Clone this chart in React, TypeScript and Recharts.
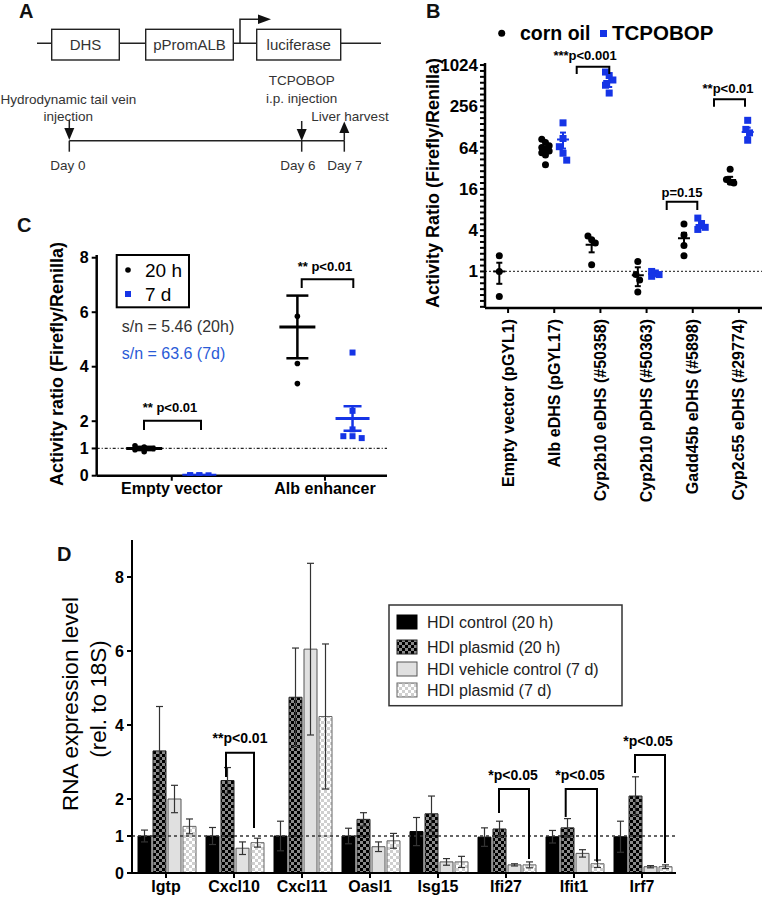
import React from 'react';
import {
    Bar,
    BarChart,
    ErrorBar,
    ReferenceLine,
    Scatter,
    ScatterChart,
    XAxis,
    YAxis,
} from 'recharts';

const FONT = '"Liberation Sans", Arial, Helvetica, sans-serif';
const BLUE = '#1534e6';

// ---- panel B: enhancer activity (log2 axis)
const bCategories = [
    'Empty vector (pGYL1)',
    'Alb eDHS (pGYL17)',
    'Cyp2b10 eDHS (#50358)',
    'Cyp2b10 pDHS (#50363)',
    'Gadd45b eDHS (#5898)',
    'Cyp2c55 eDHS (#29774)',
];
const bCornOil = [
    [1.7, 1.0, 0.43],
    [85, 76, 68, 64, 60, 57, 54, 50, 36],
    [3.3, 2.9, 2.6, 1.25],
    [1.4, 0.9, 0.75, 0.5],
    [4.9, 3.4, 2.4, 1.7],
    [31, 22, 20, 19.5],
];
const bTcpobop = [
    [],
    [147, 87, 66, 53, 42],
    [810, 720, 620, 520, 400],
    [1.0, 0.95, 0.9, 0.85],
    [6.0, 5.0, 4.4, 4.1],
    [160, 118, 105, 82],
];
const bCornMean = [1.0, 60, 2.45, 0.88, 3.05, 21.6];
const bCornSem = [0.34, 5, 0.55, 0.27, 0.6, 2.4];
const bTcpMean = [NaN, 84, 600, 0.9, 4.75, 108];
const bTcpSem = [NaN, 22, 110, 0.04, 0.45, 17];
const bMajorTicks = [1, 4, 16, 64, 256, 1024];

// ---- panel C: 20 h vs 7 d
const cCategories = ['Empty vector', 'Alb enhancer'];
const c20h = [
    [1.1, 1.05, 1.0, 0.95, 0.88],
    [5.85, 4.12, 3.38],
];
const c7d = [
    [0.02, 0.015, 0.015, 0.01, 0.02],
    [4.52, 2.38, 1.7, 1.45, 1.38, 1.45],
];
const c20hMean = [1.0, 5.46];
const c20hSem = [0.06, 1.15];
const c7dMean = [0.016, 2.1];
const c7dSem = [0.004, 0.45];
const cTicks = [0, 1, 2, 4, 6, 8];

// ---- panel D: RNA expression
const dGenes = ['Igtp', 'Cxcl10', 'Cxcl11', 'Oasl1', 'Isg15', 'Ifi27', 'Ifit1', 'Irf7'];
const dControl20h = [1, 1, 1, 1, 1.12, 0.97, 0.98, 0.98];
const dControl20hErr = [0.16, 0.23, 0.4, 0.21, 0.38, 0.25, 0.17, 0.42];
const dPlasmid20h = [3.3, 2.5, 4.75, 1.45, 1.6, 1.19, 1.22, 2.08];
const dPlasmid20hErr = [1.2, 0.35, 1.33, 0.18, 0.48, 0.21, 0.25, 0.52];
const dVehicle7d = [2.0, 0.67, 6.05, 0.71, 0.3, 0.22, 0.53, 0.17];
const dVehicle7dErr = [0.37, 0.17, 2.32, 0.13, 0.09, 0.03, 0.1, 0.03];
const dPlasmid7d = [1.26, 0.82, 4.23, 0.87, 0.3, 0.22, 0.25, 0.17];
const dPlasmid7dErr = [0.2, 0.12, 1.96, 0.2, 0.15, 0.08, 0.1, 0.05];
const dTicks = [0, 1, 2, 4, 6, 8];
const dSeries = [
    'HDI control (20 h)',
    'HDI plasmid (20 h)',
    'HDI vehicle control (7 d)',
    'HDI plasmid (7 d)',
];

// spread points that sit close together into up to 3 columns
const spread = (vals: number[], step: number, near: number) => {
    const order = vals.map((v, i) => ({ v, i })).sort((a, b) => b.v - a.v);
    const clusters: { v: number; i: number }[][] = [];
    order.forEach((p) => {
        const last = clusters[clusters.length - 1];
        if (last && Math.abs(last[last.length - 1].v - p.v) < near) last.push(p);
        else clusters.push([p]);
    });
    const xs: number[] = new Array(vals.length).fill(0);
    clusters.forEach((c) => {
        c.forEach((p, k) => {
            xs[p.i] = c.length === 2 ? (k - 0.5) * step : c.length === 1 ? 0 : ((k % 3) - 1) * step;
        });
    });
    return xs;
};

const toPoints = (
    groups: number[][],
    offset: number,
    step: number,
    near: number,
    t: (v: number) => number = (v) => v
) =>
    groups.flatMap((vals, ci) => {
        const xs = spread(vals.map(t), step, near);
        return vals.map((v, i) => ({ x: ci + offset + xs[i], y: v }));
    });

const toMeans = (means: number[], sems: number[], offset: number) =>
    means
        .map((m, i) => ({ x: i + offset, y: m, err: sems[i] }))
        .filter((d) => !Number.isNaN(d.y));

const meanShape = (half: number, color: string, sw: number) => (p: any) =>
    <line x1={p.cx - half} x2={p.cx + half} y1={p.cy} y2={p.cy} stroke={color} strokeWidth={sw} />;

const dotShape = (r: number, color: string) => (p: any) =>
    <circle cx={p.cx} cy={p.cy} r={r} fill={color} />;

const squareShape = (s: number, color: string) => (p: any) =>
    <rect x={p.cx - s / 2} y={p.cy - s / 2} width={s} height={s} fill={color} />;

// minor ticks on the log2 axis, 7 per factor of 4
const bAllTicks: number[] = [];
for (let k = -6; k <= 35; k++) {
    const v = Math.pow(2, (k * 2) / 7);
    if (v >= 0.3 && v <= 1100) bAllTicks.push(v);
}
const isMajor = (v: number) => bMajorTicks.some((m) => Math.abs(m - v) / m < 1e-6);

const BTick = (props: any) => {
    const { x, y, payload } = props;
    return (
        <text
            x={x}
            y={y}
            transform={`rotate(-90 ${x} ${y})`}
            textAnchor="end"
            dominantBaseline="central"
            fontFamily={FONT}
            fontWeight="bold"
            fontSize={16}
            fill="#000"
        >
            {bCategories[payload.value]}
        </text>
    );
};

const PanelB = () => {
    const corn = toPoints(bCornOil, -0.19, 0.08, 0.35, Math.log2);
    const tcp = toPoints(bTcpobop, 0.19, 0.08, 0.35, Math.log2);
    const axis = { stroke: '#000', strokeWidth: 2.5 };
    return (
        <ScatterChart width={369} height={520} margin={{ top: 63, right: 7, bottom: 0, left: 0 }}>
            <XAxis
                type="number"
                dataKey="x"
                domain={[-0.5, 5.5]}
                ticks={[0, 1, 2, 3, 4, 5]}
                interval={0}
                height={212}
                axisLine={axis}
                tickLine={{ stroke: '#000', strokeWidth: 2 }}
                tickSize={5}
                tickMargin={6}
                tick={(p: any) => <BTick {...p} />}
            />
            <YAxis
                type="number"
                dataKey="y"
                scale="log"
                domain={[0.293, 1097]}
                allowDataOverflow
                ticks={bAllTicks}
                interval={0}
                width={85}
                axisLine={axis}
                tickLine={{ stroke: '#000', strokeWidth: 2 }}
                tickSize={5}
                tickMargin={2}
                tickFormatter={(v: number) => (isMajor(v) ? String(Math.round(v)) : '')}
                tick={{ fontFamily: FONT, fontWeight: 'bold', fontSize: 17, fill: '#000' }}
            />
            <ReferenceLine y={1} stroke="#444" strokeDasharray="2 2" strokeWidth={1.2} />
            <Scatter data={corn} shape={dotShape(3.5, '#000')} isAnimationActive={false} />
            <Scatter data={tcp} shape={squareShape(7, BLUE)} isAnimationActive={false} />
            <Scatter
                data={toMeans(bCornMean, bCornSem, -0.19)}
                shape={meanShape(6, '#000', 2)}
                isAnimationActive={false}
            >
                <ErrorBar dataKey="err" direction="y" width={3} stroke="#000" strokeWidth={2} />
            </Scatter>
            <Scatter
                data={toMeans(bTcpMean, bTcpSem, 0.19)}
                shape={meanShape(6, BLUE, 2)}
                isAnimationActive={false}
            >
                <ErrorBar dataKey="err" direction="y" width={3} stroke={BLUE} strokeWidth={2} />
            </Scatter>
        </ScatterChart>
    );
};

const PanelC = () => {
    const h20 = toPoints(c20h, -0.18, 0.06, 0.12);
    const d7 = toPoints(c7d, 0.18, 0.06, 0.12);
    const axis = { stroke: '#000', strokeWidth: 2.5 };
    return (
        <ScatterChart width={400} height={320} margin={{ top: 65, right: 13, bottom: 0, left: 0 }}>
            <XAxis
                type="number"
                dataKey="x"
                domain={[-0.49, 1.405]}
                ticks={[0, 1]}
                interval={0}
                height={34.3}
                axisLine={axis}
                tickLine={{ stroke: '#000', strokeWidth: 2 }}
                tickSize={5}
                tickMargin={2}
                tickFormatter={(v: number) => cCategories[v]}
                tick={{ fontFamily: FONT, fontWeight: 'bold', fontSize: 16, fill: '#000' }}
            />
            <YAxis
                type="number"
                dataKey="y"
                domain={[0, 8.1]}
                allowDataOverflow
                ticks={cTicks}
                interval={0}
                width={96.7}
                axisLine={axis}
                tickLine={{ stroke: '#000', strokeWidth: 2 }}
                tickSize={5}
                tickMargin={3}
                tick={{ fontFamily: FONT, fontWeight: 'bold', fontSize: 16, fill: '#000' }}
            />
            <ReferenceLine y={1} stroke="#222" strokeDasharray="3 2 1 2" strokeWidth={1.2} />
            <Scatter data={h20} shape={dotShape(2.8, '#000')} isAnimationActive={false} />
            <Scatter data={d7} shape={squareShape(6, BLUE)} isAnimationActive={false} />
            <Scatter
                data={toMeans(c20hMean, c20hSem, -0.18)}
                shape={meanShape(18, '#000', 3)}
                isAnimationActive={false}
            >
                <ErrorBar dataKey="err" direction="y" width={11} stroke="#000" strokeWidth={2.5} />
            </Scatter>
            <Scatter
                data={toMeans(c7dMean, c7dSem, 0.18)}
                shape={meanShape(17, BLUE, 3)}
                isAnimationActive={false}
            >
                <ErrorBar dataKey="err" direction="y" width={9} stroke={BLUE} strokeWidth={2.5} />
            </Scatter>
        </ScatterChart>
    );
};

const dData = dGenes.map((g, i) => ({
    gene: g,
    c20: dControl20h[i],
    c20e: dControl20hErr[i],
    p20: dPlasmid20h[i],
    p20e: dPlasmid20hErr[i],
    v7: dVehicle7d[i],
    v7e: dVehicle7dErr[i],
    p7: dPlasmid7d[i],
    p7e: dPlasmid7dErr[i],
}));

const dFills = ['#000', 'url(#checkDark)', '#e0e0e0', 'url(#checkLight)'];
const dStrokes = ['#000', '#222', '#555', '#666'];

const PanelD = () => {
    const axis = { stroke: '#000', strokeWidth: 2 };
    const err = { direction: 'y' as const, width: 3.5, stroke: '#333', strokeWidth: 1.2 };
    return (
        <BarChart
            width={769}
            height={380}
            data={dData}
            margin={{ top: 20, right: 93, bottom: 0, left: 0 }}
            barCategoryGap={6}
            barGap={2}
        >
            <XAxis
                dataKey="gene"
                height={27}
                axisLine={axis}
                tickLine={{ stroke: '#000', strokeWidth: 2 }}
                tickSize={5}
                tickMargin={3}
                interval={0}
                tick={{ fontFamily: FONT, fontWeight: 'bold', fontSize: 16, fill: '#000' }}
            />
            <YAxis
                type="number"
                domain={[0, 9]}
                ticks={dTicks}
                interval={0}
                width={132}
                axisLine={axis}
                tickLine={{ stroke: '#000', strokeWidth: 2 }}
                tickSize={5}
                tickMargin={3}
                tick={{ fontFamily: FONT, fontWeight: 'bold', fontSize: 16, fill: '#000' }}
            />
            <ReferenceLine y={1} stroke="#333" strokeDasharray="3 3" strokeWidth={1.5} />
            <Bar dataKey="c20" fill={dFills[0]} stroke={dStrokes[0]} isAnimationActive={false}>
                <ErrorBar dataKey="c20e" {...err} />
            </Bar>
            <Bar dataKey="p20" fill={dFills[1]} stroke={dStrokes[1]} isAnimationActive={false}>
                <ErrorBar dataKey="p20e" {...err} />
            </Bar>
            <Bar dataKey="v7" fill={dFills[2]} stroke={dStrokes[2]} isAnimationActive={false}>
                <ErrorBar dataKey="v7e" {...err} />
            </Bar>
            <Bar dataKey="p7" fill={dFills[3]} stroke={dStrokes[3]} isAnimationActive={false}>
                <ErrorBar dataKey="p7e" {...err} />
            </Bar>
        </BarChart>
    );
};

const Bracket = ({ x1, x2, top, l, r }: { x1: number; x2: number; top: number; l: number; r: number }) => (
    <path d={`M${x1} ${l} V${top} H${x2} V${r}`} fill="none" stroke="#000" strokeWidth={2} />
);

const Note = ({ x, y, children, size = 13 }: any) => (
    <text x={x} y={y} textAnchor="middle" fontFamily={FONT} fontWeight="bold" fontSize={size} fill="#000">
        {children}
    </text>
);

const Letter = ({ x, y, children }: any) => (
    <text x={x} y={y} fontFamily={FONT} fontWeight="bold" fontSize={20} fill="#111">
        {children}
    </text>
);

const DownArrow = ({ x, y }: { x: number; y: number }) => (
    <g>
        <line x1={x} x2={x} y1={y} y2={y + 10} stroke="#222" strokeWidth={1.5} />
        <polygon points={`${x - 5},${y + 8} ${x + 5},${y + 8} ${x},${y + 20}`} fill="#111" />
    </g>
);

const Overlay = () => {
    const t = { fontFamily: FONT, fill: '#333' };
    return (
        <svg width={769} height={900} style={{ position: 'absolute', left: 0, top: 0, pointerEvents: 'none' }}>
            {/* panel A: construct and timeline */}
            <Letter x={19} y={18}>A</Letter>
            <line x1={37} x2={381} y1={43.3} y2={43.3} stroke="#222" strokeWidth={1.5} />
            <rect x={51.7} y={29.3} width={67.6} height={30.7} fill="#fff" stroke="#222" strokeWidth={1.4} />
            <rect x={145.7} y={29.3} width={87.6} height={30.7} fill="#fff" stroke="#222" strokeWidth={1.4} />
            <rect x={256.7} y={29.3} width={84} height={30.7} fill="#fff" stroke="#222" strokeWidth={1.4} />
            <text x={85.5} y={50} textAnchor="middle" fontSize={15} {...t}>DHS</text>
            <text x={189.5} y={50} textAnchor="middle" fontSize={15} {...t}>pPromALB</text>
            <text x={298.7} y={50} textAnchor="middle" fontSize={15} {...t}>luciferase</text>
            <path d="M240 43.3 V19.3 H260" fill="none" stroke="#222" strokeWidth={1.5} />
            <polygon points="258,14.5 271,19.3 258,24" fill="#111" />

            <line x1={69.3} x2={344.3} y1={140.7} y2={140.7} stroke="#222" strokeWidth={1.5} />
            {[69.3, 301.7, 344.3].map((x) => (
                <line key={x} x1={x} x2={x} y1={140.7} y2={151.7} stroke="#222" strokeWidth={1.5} />
            ))}
            <DownArrow x={69.3} y={120} />
            <DownArrow x={301.7} y={121} />
            <line x1={344.3} x2={344.3} y1={131} y2={140.7} stroke="#222" strokeWidth={1.5} />
            <polygon points="339.3,133 349.3,133 344.3,121.5" fill="#111" />
            <text x={68.3} y={104} textAnchor="middle" fontSize={13.5} {...t}>Hydrodynamic tail vein</text>
            <text x={68.3} y={121} textAnchor="middle" fontSize={13.5} {...t}>injection</text>
            <text x={301.7} y={84.5} textAnchor="middle" fontSize={13.5} {...t}>TCPOBOP</text>
            <text x={301.7} y={103} textAnchor="middle" fontSize={13.5} {...t}>i.p. injection</text>
            <text x={350} y={121} textAnchor="middle" fontSize={13.5} {...t}>Liver harvest</text>
            <text x={68} y={170} textAnchor="middle" fontSize={13.5} {...t}>Day 0</text>
            <text x={298} y={170} textAnchor="middle" fontSize={13.5} {...t}>Day 6</text>
            <text x={345} y={170} textAnchor="middle" fontSize={13.5} {...t}>Day 7</text>

            {/* panel B */}
            <Letter x={426} y={18}>B</Letter>
            <circle cx={501.7} cy={33.3} r={3.5} fill="#000" />
            <text x={520} y={40} fontFamily={FONT} fontWeight="bold" fontSize={19.5}>corn oil</text>
            <rect x={600} y={30} width={7} height={7} fill={BLUE} />
            <text x={612} y={40} fontFamily={FONT} fontWeight="bold" fontSize={20.5}>TCPOBOP</text>
            <text
                transform="translate(433 183) rotate(-90)"
                textAnchor="middle"
                dominantBaseline="central"
                fontFamily={FONT}
                fontWeight="bold"
                fontSize={18}
            >
                Activity Ratio (Firefly/Renilla)
            </text>
            <Bracket x1={576.7} x2={609.3} top={66.7} l={74} r={74} />
            <Note x={585} y={60}>***p&lt;0.001</Note>
            <Bracket x1={714} x2={745} top={99.3} l={106.7} r={106.7} />
            <Note x={728} y={93}>**p&lt;0.01</Note>
            <Bracket x1={666.7} x2={697.3} top={201.7} l={210} r={210} />
            <Note x={682} y={197}>p=0.15</Note>

            {/* panel C */}
            <Letter x={17} y={232}>C</Letter>
            <rect x={116.7} y={255} width={72.3} height={52.3} fill="#fff" stroke="#000" strokeWidth={2} />
            <circle cx={128} cy={270} r={2.8} fill="#000" />
            <text x={145} y={277} fontFamily={FONT} fontSize={19}>20 h</text>
            <rect x={125} y={291} width={6} height={6} fill={BLUE} />
            <text x={145} y={301} fontFamily={FONT} fontSize={19}>7 d</text>
            <text x={121.7} y={332} fontFamily={FONT} fontSize={16} fill="#333">s/n = 5.46 (20h)</text>
            <text x={121.7} y={358.5} fontFamily={FONT} fontSize={16} fill="#2a5bd7">s/n = 63.6 (7d)</text>
            <text
                transform="translate(57 364) rotate(-90)"
                textAnchor="middle"
                dominantBaseline="central"
                fontFamily={FONT}
                fontWeight="bold"
                fontSize={18}
            >
                Activity ratio (Firefly/Renilla)
            </text>
            <Bracket x1={144} x2={201} top={420.7} l={430} r={430} />
            <Note x={170} y={412}>** p&lt;0.01</Note>
            <Bracket x1={301.7} x2={353.3} top={279.3} l={288} r={288} />
            <Note x={325} y={271}>** p&lt;0.01</Note>

            {/* panel D */}
            <Letter x={57} y={561}>D</Letter>
            <text
                transform="translate(70 704) rotate(-90)"
                textAnchor="middle"
                dominantBaseline="central"
                fontFamily={FONT}
                fontSize={22.5}
            >
                RNA expression level
            </text>
            <text
                transform="translate(98.3 699) rotate(-90)"
                textAnchor="middle"
                dominantBaseline="central"
                fontFamily={FONT}
                fontSize={22.5}
            >
                (rel. to 18S)
            </text>
            <Bracket x1={226} x2={254} top={752.7} l={777} r={828} />
            <Note x={240} y={743} size={14}>**p&lt;0.01</Note>
            <Bracket x1={499} x2={529} top={789} l={813} r={859} />
            <Note x={513} y={780} size={14}>*p&lt;0.05</Note>
            <Bracket x1={565.7} x2={597} top={789} l={817} r={861.7} />
            <Note x={580} y={780} size={14}>*p&lt;0.05</Note>
            <Bracket x1={635} x2={665} top={755} l={773} r={863} />
            <Note x={648} y={746} size={14}>*p&lt;0.05</Note>

            <rect x={389} y={605} width={233} height={100.7} fill="#fff" stroke="#333" strokeWidth={1.5} />
            {dSeries.map((name, i) => {
                const cy = [622, 647, 669, 690][i];
                return (
                    <g key={name}>
                        <rect x={397} y={cy - 7} width={20} height={14} fill={dFills[i]} stroke={dStrokes[i]} strokeWidth={1} />
                        <text x={427} y={cy + 5.5} fontFamily={FONT} fontSize={16} fill="#222">
                            {name}
                        </text>
                    </g>
                );
            })}
        </svg>
    );
};

export default function App() {
    return (
        <div
            style={{
                position: 'absolute',
                left: 0,
                top: 0,
                width: 769,
                height: 900,
                background: '#fff',
                fontFamily: FONT,
                overflow: 'hidden',
            }}
        >
            <svg width={0} height={0} style={{ position: 'absolute' }}>
                <defs>
                    <pattern id="checkDark" width={6} height={6} patternUnits="userSpaceOnUse">
                        <rect width={6} height={6} fill="#8a8a8a" />
                        <rect width={3} height={3} fill="#000" />
                        <rect x={3} y={3} width={3} height={3} fill="#000" />
                    </pattern>
                    <pattern id="checkLight" width={6} height={6} patternUnits="userSpaceOnUse">
                        <rect width={6} height={6} fill="#fff" />
                        <rect width={3} height={3} fill="#cfcfcf" />
                        <rect x={3} y={3} width={3} height={3} fill="#cfcfcf" />
                    </pattern>
                </defs>
            </svg>
            <div style={{ position: 'absolute', left: 400, top: 0 }}>
                <PanelB />
            </div>
            <div style={{ position: 'absolute', left: 0, top: 190 }}>
                <PanelC />
            </div>
            <div style={{ position: 'absolute', left: 0, top: 520 }}>
                <PanelD />
            </div>
            <Overlay />
        </div>
    );
}
